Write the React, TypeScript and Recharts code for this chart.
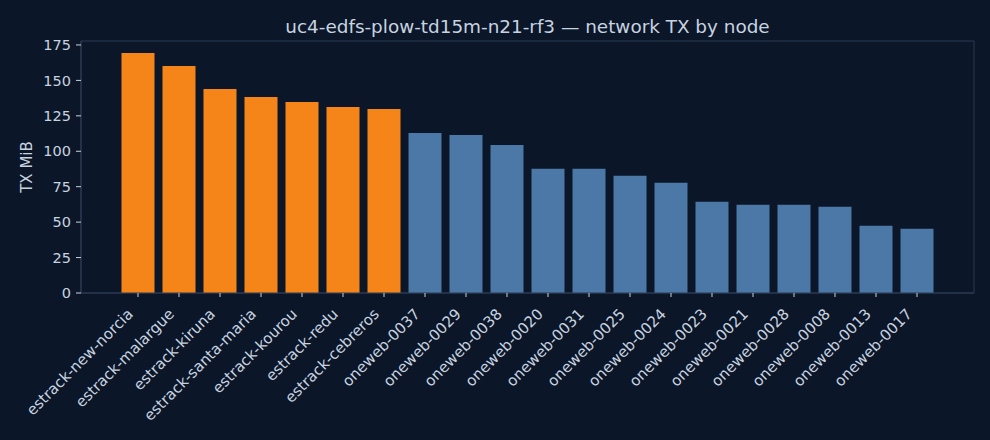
import { BarChart, Bar, XAxis, YAxis, Cell, CartesianGrid } from 'recharts';

const nodes = [
  'estrack-new-norcia',
  'estrack-malargue',
  'estrack-kiruna',
  'estrack-santa-maria',
  'estrack-kourou',
  'estrack-redu',
  'estrack-cebreros',
  'oneweb-0037',
  'oneweb-0029',
  'oneweb-0038',
  'oneweb-0020',
  'oneweb-0031',
  'oneweb-0025',
  'oneweb-0024',
  'oneweb-0023',
  'oneweb-0021',
  'oneweb-0028',
  'oneweb-0008',
  'oneweb-0013',
  'oneweb-0017',
];

const txMiB = [
  169.3, 160.2, 144.0, 138.3, 134.8, 131.3, 129.9, 112.9, 111.5, 104.5, 87.6, 87.6, 82.7, 77.7, 64.3,
  62.2, 62.2, 60.8, 47.4, 45.3,
];

const yTicks = [0, 25, 50, 75, 100, 125, 150, 175];

const BG = '#0b1628';
const SPINE = '#2b3a52';
const TEXT = '#c8d3e0';
const FONT = '"DejaVu Sans", sans-serif';

const groupColor = (name: string) => (name.startsWith('estrack') ? '#f58518' : '#4c78a8');

const data = nodes.map((node, i) => ({ node, tx: txMiB[i] }));

// rotated category labels, anchored at their end like matplotlib's ha='right'
function NodeTick(props: any) {
  const { x, y, payload } = props;
  return (
    <g transform={`translate(${x - 4},${y + 16})`}>
      <text transform="rotate(-45)" textAnchor="end" fill={TEXT} fontSize={15} fontFamily={FONT}>
        {payload.value}
      </text>
    </g>
  );
}

export default function App() {
  return (
    <div style={{ position: 'relative', width: 990, height: 440, background: BG }}>
      <style>{`body{margin:0;background:${BG}}`}</style>
      <div
        style={{
          position: 'absolute',
          top: 16,
          left: 81,
          width: 893,
          textAlign: 'center',
          color: TEXT,
          fontFamily: FONT,
          fontSize: 18.4,
          lineHeight: '22px',
        }}
      >
        uc4-edfs-plow-td15m-n21-rf3 — network TX by node
      </div>
      <BarChart
        width={990}
        height={440}
        data={data}
        margin={{ top: 41, right: 16, bottom: 0, left: 0 }}
        barSize={33}
      >
        {/* plot frame: only the outer box, no grid */}
        <CartesianGrid
          stroke={SPINE}
          horizontalCoordinatesGenerator={({ offset }: any) => [offset.top, offset.top + offset.height]}
          verticalCoordinatesGenerator={({ offset }: any) => [offset.left, offset.left + offset.width]}
        />
        <XAxis
          dataKey="node"
          interval={0}
          height={147}
          padding={{ left: 36.5, right: 36.5 }}
          stroke={SPINE}
          tickLine={{ stroke: TEXT }}
          tickSize={4}
          tick={<NodeTick />}
        />
        <YAxis
          domain={[0, 177.8]}
          ticks={yTicks}
          width={81}
          stroke={SPINE}
          tickLine={{ stroke: TEXT }}
          tickSize={5}
          tickMargin={5}
          tick={{ fill: TEXT, fontSize: 14.5, fontFamily: FONT }}
          label={{
            value: 'TX MiB',
            angle: -90,
            position: 'insideLeft',
            offset: 27,
            style: { fill: TEXT, fontSize: 15, fontFamily: FONT, textAnchor: 'middle' },
          }}
        />
        <Bar dataKey="tx" isAnimationActive={false}>
          {data.map((d) => (
            <Cell key={d.node} fill={groupColor(d.node)} />
          ))}
        </Bar>
      </BarChart>
    </div>
  );
}
